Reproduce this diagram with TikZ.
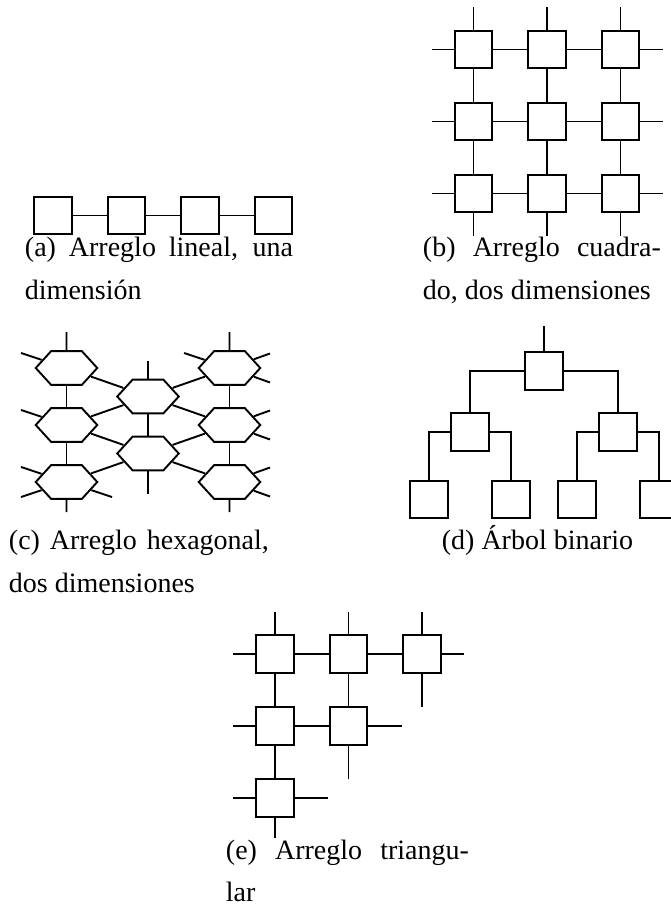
\documentclass[tikz,border=0pt]{standalone}
\usepackage{fontspec}
\setmainfont{Liberation Serif}
\usetikzlibrary{shapes.geometric}

% caption text, set as one justified paragraph of a given width
\newcommand{\captfont}{\fontsize{28}{43}\selectfont}
\newcommand{\subcap}[2]{\vtop{\hsize=#1\relax\parindent=0pt\parskip=0pt
    \tolerance=9999\emergencystretch=3em\noindent #2}}

\begin{document}
\begin{tikzpicture}[
    x=1pt, y=-1pt,
    line width=1.9pt,
    every node/.style={font=\captfont, inner sep=0pt},
    cell/.style={draw, minimum size=37.5pt},
    hexcell/.style={
        draw,
        regular polygon,
        regular polygon sides=6,
        minimum size=41pt,
        xscale=1.5,
        yscale=0.95,
        transform shape
    },
    caption/.style={anchor=base west}
]
\useasboundingbox (0,0) rectangle (671,907);

% (a) linear array
\foreach \i/\x in {1/53,2/126.5,3/200,4/273.5}
    \node[cell] (a\i) at (\x,215.5) {};
\draw (a1) -- (a2) (a2) -- (a3) (a3) -- (a4);
\node[caption] (capa) at (24,256) {\subcap{268pt}{(a) Arreglo lineal, una\linebreak dimensión}};

% (b) square mesh
\foreach \r in {1,2,3}
    \foreach \c in {1,2,3}
        \node[cell] (b\r\c) at ({473.5+73.5*(\c-1)},{49.5+72*(\r-1)}) {};
\foreach \r in {1,2,3} {
    \draw (b\r1) -- (b\r2) (b\r2) -- (b\r3);
    \draw (b\r1) -- ++(-42,0) (b\r3) -- ++(42,0);
}
\foreach \c in {1,2,3} {
    \draw (b1\c) -- (b2\c) (b2\c) -- (b3\c);
    \draw (b1\c) -- ++(0,-42) (b3\c) -- ++(0,42);
}
\node[caption] (capb) at (422,256) {\subcap{238pt}{(b) Arreglo cuadra-\linebreak do, dos dimensiones}};

% (c) hexagonal mesh
\foreach \n/\x/\y in {hL1/66.5/368, hL2/66.5/425, hL3/66.5/482,
                      hM1/148/396.5, hM2/148/453.5,
                      hR1/229.5/368, hR2/229.5/425, hR3/229.5/482}
    \node[hexcell] (\n) at (\x,\y) {};
\foreach \p/\q in {hL1/hL2, hL2/hL3, hM1/hM2, hR1/hR2, hR2/hR3,
                   hL1/hM1, hL2/hM1, hL2/hM2, hL3/hM2,
                   hM1/hR1, hM1/hR2, hM2/hR2, hM2/hR3}
    \draw (\p) -- (\q);
% loose ends
\draw (hL1) -- ++(0,-36) (hL1) -- ++(-45.5,-15);
\draw (hL2) -- ++(-45.5,-15);
\draw (hL3) -- ++(-45.5,-15) (hL3) -- ++(-45.5,15) (hL3) -- ++(45.5,15) (hL3) -- ++(0,30);
\draw (hM1) -- ++(0,-36) (hM2) -- ++(0,40);
\draw (hR1) -- ++(0,-36) (hR1) -- ++(-45.5,-15) (hR3) -- ++(0,30);
\foreach \n in {hR1,hR2,hR3}
    \draw (\n) -- ++(40.5,-14.5) (\n) -- ++(40.5,14.5);
\node[caption] (capc) at (8,549) {\subcap{260pt}{(c) Arreglo hexagonal,\linebreak dos dimensiones}};

% (d) binary tree
\node[cell] (d0) at (544,371) {};
\node[cell] (d1) at (470,432) {};
\node[cell] (d2) at (618,432) {};
\foreach \n/\x in {d11/429, d12/511, d21/577, d22/659}
    \node[cell] (\n) at (\x,499.5) {};
\draw (d0) -- ++(0,-45);
\draw (d0.west) -| (d1);
\draw (d0.east) -| (d2);
\draw (d1.west) -| (d11);
\draw (d1.east) -| (d12);
\draw (d2.west) -| (d21);
\draw (d2.east) -| (d22);
\node[anchor=base] (capd) at (537.5,549) {(d) Árbol binario};

% (e) triangular array
\foreach \n/\x/\y in {e11/275/654, e12/348.5/654, e13/422/654,
                      e21/275/726, e22/348.5/726,
                      e31/275/798}
    \node[cell] (\n) at (\x,\y) {};
\draw (e11) -- (e12) (e12) -- (e13) (e21) -- (e22);
\draw (e11) -- (e21) (e12) -- (e22) (e21) -- (e31);
% loose ends
\draw (e11) -- ++(0,-42) (e12) -- ++(0,-42) (e13) -- ++(0,-42);
\draw (e11) -- ++(-42,0) (e21) -- ++(-42,0) (e31) -- ++(-42,0);
\draw (e13) -- ++(42,0) (e13) -- ++(0,53);
\draw (e22) -- ++(53,0) (e22) -- ++(0,53);
\draw (e31) -- ++(53,0) (e31) -- ++(0,40);
\node[caption] (cape) at (225,859) {\subcap{243pt}{\baselineskip=42pt (e) Arreglo triangu-\linebreak lar}};

\end{tikzpicture}
\end{document}
